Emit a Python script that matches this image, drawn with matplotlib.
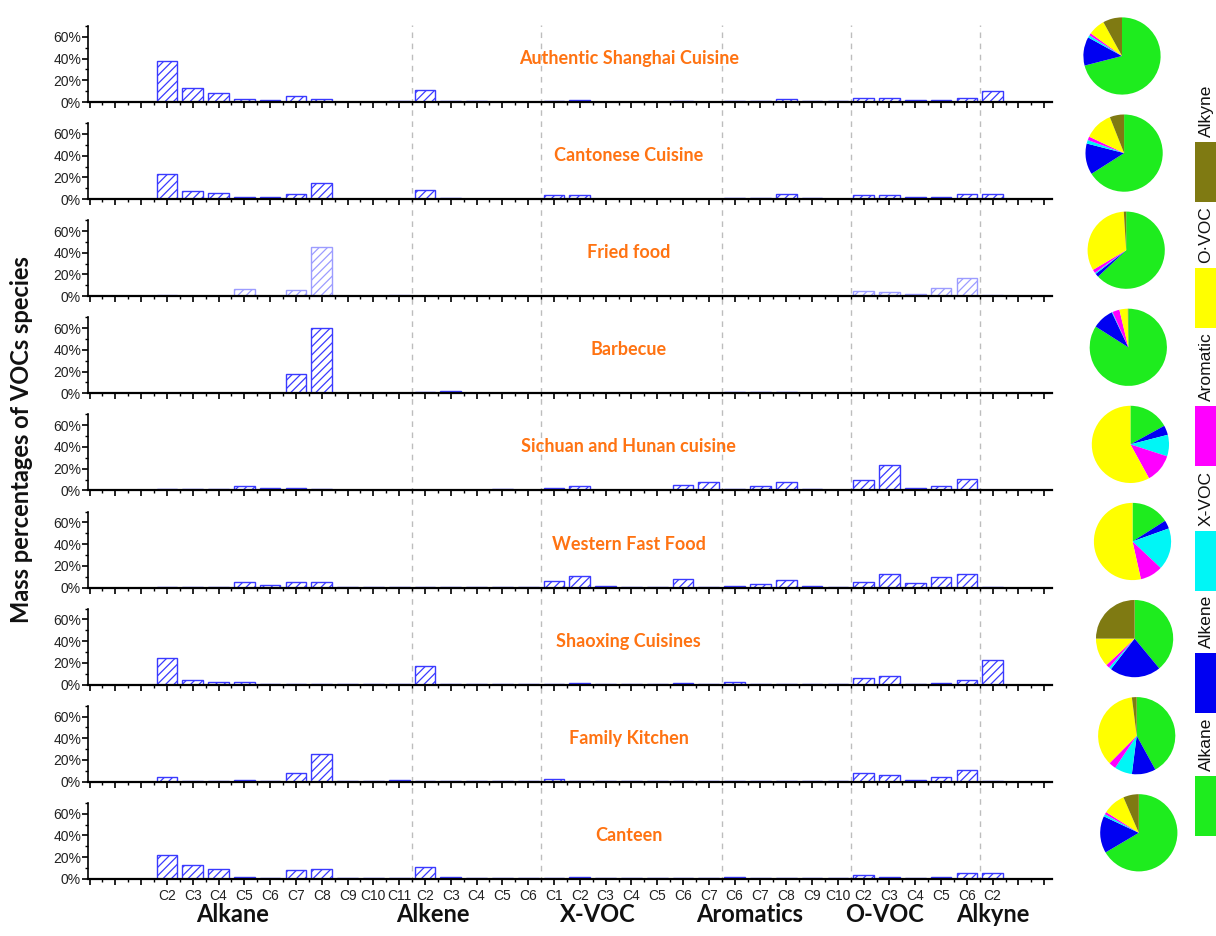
import matplotlib
matplotlib.use("Agg")
import matplotlib.pyplot as plt
from matplotlib import font_manager
from matplotlib.ticker import FixedLocator, MultipleLocator
import numpy as np

# species labels in each VOC group
alkane = ["C2", "C3", "C4", "C5", "C6", "C7", "C8", "C9", "C10", "C11"]
alkene = ["C2", "C3", "C4", "C5", "C6"]
xvoc = ["C1", "C2", "C3", "C4", "C5", "C6", "C7"]
aromatics = ["C6", "C7", "C8", "C9", "C10"]
ovoc = ["C2", "C3", "C4", "C5", "C6"]
alkyne = ["C2"]
group_names = ["Alkane", "Alkene", "X-VOC", "Aromatics", "O-VOC", "Alkyne"]
groups = [alkane, alkene, xvoc, aromatics, ovoc, alkyne]

sources = ["Authentic Shanghai Cuisine", "Cantonese Cuisine", "Fried food", "Barbecue",
           "Sichuan and Hunan cuisine", "Western Fast Food", "Shaoxing Cuisines",
           "Family Kitchen", "Canteen"]

# mass percentages (%), order = alkane | alkene | X-VOC | aromatics | O-VOC | alkyne
shanghai = [37.5, 13, 8, 2.4, 1.5, 5.5, 2.4, 0.3, 0.3, 0.5,
            11, 1, 0.5, 0.3, 0.3,
            0.5, 1.5, 0.3, 0.3, 0.3, 1, 0.3,
            1, 0.5, 2.4, 0.5, 0.5,
            3.7, 3.4, 1.5, 1.5, 3.7,
            10]
cantonese = [23, 7.3, 5.5, 1.5, 1.5, 5, 15, 0.3, 0.3, 0.5,
             8.5, 1, 0.5, 0.5, 0.3,
             3.7, 3.5, 0.5, 0.3, 0.3, 0.5, 0.3,
             1, 1, 5, 1, 0.5,
             4, 4, 1.5, 1.8, 5,
             4.5]
fried = [1.5, 0.5, 0.3, 7, 0.5, 5.5, 45, 0.3, 0.3, 0.8,
         0.5, 0.3, 0.3, 0.3, 0.3,
         0.5, 0.5, 0.3, 0.3, 0.3, 0.3, 0.3,
         0.5, 0.3, 0.5, 0.3, 0.3,
         5.2, 3.7, 2.4, 7.6, 16.8,
         1]
barbecue = [0.5, 0.5, 0.5, 0.5, 0.5, 18, 60.5, 0.3, 0.3, 0.5,
            1.5, 2, 0.5, 0.3, 0.3,
            0.3, 0.3, 0.3, 0.3, 0.3, 0.3, 0.3,
            1.5, 1.2, 1.2, 0.5, 0.3,
            0.5, 0.5, 0.5, 0.5, 0.5,
            0.3]
sichuan = [1, 1, 1, 4, 2, 2, 1, 0.3, 0.3, 0.3,
           0.5, 0.3, 0.3, 1, 0.3,
           1.8, 4.3, 0.6, 0.3, 0.3, 4.6, 7.3,
           1.2, 4.3, 7.3, 1.5, 0.3,
           9.8, 23.5, 2.1, 4.3, 10.4,
           0.3]
western = [0.3, 0.3, 0.3, 5, 2, 5, 5, 0.3, 0.3, 0.3,
           0.3, 0.3, 0.3, 0.3, 0.3,
           6, 10.4, 1.8, 0.3, 0.3, 8, 0.3,
           1.2, 3, 6.7, 1.5, 0.3,
           5.2, 12.8, 4.3, 9.8, 12.8,
           0.3]
shaoxing = [24.5, 4.6, 2.1, 2.1, 0.8, 0.8, 0.5, 0.3, 0.3, 0.3,
            16.8, 0.3, 0.8, 0.3, 0.3,
            0.5, 1.5, 0.3, 0.3, 0.3, 1.5, 0.3,
            2, 0.5, 0.5, 0.3, 0.3,
            5.8, 8.3, 0.8, 1.5, 4.6,
            23]
family = [4, 0.8, 0.8, 2, 0.5, 7.6, 25.4, 0.3, 0.5, 2,
          0.8, 0.5, 0.5, 0.5, 0.3,
          2.4, 0.5, 0.3, 0.3, 0.3, 0.5, 0.3,
          0.8, 0.5, 0.5, 0.5, 0.5,
          7.6, 6.1, 2, 4, 10.7,
          0.5]
canteen = [22.3, 12.8, 9.2, 1.5, 0.5, 8.3, 9.2, 0.5, 0.5, 0.5,
           10.7, 1.2, 0.5, 0.3, 0.3,
           0.3, 1.5, 0.3, 0.3, 0.3, 0.5, 0.3,
           1.5, 1, 1, 0.5, 0.3,
           3.4, 2.1, 0.8, 1.8, 5.2,
           5.2]
bar_values = [shanghai, cantonese, fried, barbecue, sichuan, western, shaoxing, family, canteen]

# pie shares: Alkane, Alkene, X-VOC, Aromatic, O-VOC, Alkyne
pie_labels = ["Alkane", "Alkene", "X-VOC", "Aromatic", "O\u00b7VOC", "Alkyne"]
pie_shanghai = [71, 12, 1, 1, 7, 8]
pie_cantonese = [66, 13, 1.5, 1.5, 12, 6]
pie_fried = [63, 1.5, 0.5, 1.5, 32.5, 1]
pie_barbecue = [84, 9, 0.3, 3, 3.5, 0.2]
pie_sichuan = [17, 4, 9, 12, 58, 0]
pie_western = [16, 3.5, 17.5, 9.5, 53.5, 0]
pie_shaoxing = [39, 21.5, 1, 1.5, 12, 25]
pie_family = [42, 10, 7.4, 3, 35.6, 2]
pie_canteen = [66.5, 15.5, 1, 1, 9.5, 6.5]
pie_values = [pie_shanghai, pie_cantonese, pie_fried, pie_barbecue, pie_sichuan,
              pie_western, pie_shaoxing, pie_family, pie_canteen]
pie_colors = ["#1eec1e", "#0000f2", "#00f6f6", "#ff00ff", "#ffff00", "#7f7a12"]

names = {f.name for f in font_manager.fontManager.ttflist}
narrow = "Liberation Sans Narrow" if "Liberation Sans Narrow" in names else "Liberation Sans"
label_font = "Lato" if "Lato" in names else "DejaVu Sans"

plt.rcParams["hatch.linewidth"] = 0.9
orange = "#ff7312"
bar_blue = "#3a3aff"

W, H = 1216, 936
fig = plt.figure(figsize=(W / 100, H / 100), dpi=100)

species = sum(groups, [])
x = np.arange(len(species))
bounds = np.cumsum([len(g) for g in groups])[:-1] - 0.5
xlim = (-3.06, 34.3)
ax_left, ax_right = 88, 1052
base0, pitch, ax_h = 102, 97.1, 76

# background axis for the dashed group separators
top_px, bot_px = 25, 882
bg = fig.add_axes([ax_left / W, 1 - bot_px / H, (ax_right - ax_left) / W, (bot_px - top_px) / H])
bg.set_xlim(xlim)
bg.set_ylim(0, 1)
bg.axis("off")
for b in bounds:
    bg.axvline(b, color="#bdbdbd", ls=(0, (4, 4)), lw=1)

axes = []
for k, (name, vals) in enumerate(zip(sources, bar_values)):
    base = base0 + pitch * k
    ax = fig.add_axes([ax_left / W, 1 - base / H, (ax_right - ax_left) / W, ax_h / H])
    ax.set_facecolor("none")
    ec = "#9c9cff" if name == "Fried food" else bar_blue
    ax.bar(x, vals, width=0.8, facecolor="white", edgecolor=ec, hatch="////", linewidth=1.0, zorder=2)
    ax.set_xlim(xlim)
    ax.set_ylim(0, 70)
    for s in ["top", "right"]:
        ax.spines[s].set_visible(False)
    ax.spines["bottom"].set_linewidth(1.6)
    ax.spines["left"].set_linewidth(1.2)
    ax.xaxis.set_major_locator(FixedLocator(np.arange(-3, 35)))
    ax.xaxis.set_minor_locator(FixedLocator(np.arange(-3, 35) + 0.5))
    ax.set_yticks([0, 20, 40, 60])
    ax.yaxis.set_minor_locator(MultipleLocator(10))
    ax.set_yticklabels(["0%", "20%", "40%", "60%"], fontsize=10, family=narrow, color="#222222")
    ax.tick_params(axis="x", which="major", direction="out", length=4, width=1.2)
    ax.tick_params(axis="x", which="minor", direction="out", length=2, width=1)
    ax.tick_params(axis="y", which="major", direction="out", length=4, width=1.2, pad=1)
    ax.tick_params(axis="y", which="minor", direction="out", length=2, width=1)
    ax.text(17.9, 40, name, ha="center", va="center", color=orange, fontsize=13,
            fontweight="bold", family=label_font)
    if k < len(sources) - 1:
        ax.set_xticklabels([])
    else:
        labels = ["" for _ in range(-3, 35)]
        for i, s in enumerate(species):
            labels[i + 3] = s
        ax.set_xticklabels(labels, fontsize=10, family=narrow, color="#222222")
        ax.tick_params(axis="x", which="major", pad=3)
    axes.append(ax)

# group names under the bottom panel
group_x = [2.55, 10.3, 16.7, 22.6, 27.8, 32.0]
for gx, gname in zip(group_x, group_names):
    axes[-1].text(gx, -0.47, gname, transform=axes[-1].get_xaxis_transform(), ha="center",
                  va="center", fontsize=17, fontweight="bold", family=label_font, color="#111111")

fig.text(22 / W, 1 - 440 / H, "Mass percentages of VOCs species", rotation=90, ha="center",
         va="center", fontsize=17, fontweight="bold", family=label_font, color="#111111")

# pies on the right
d = 78
for k, vals in enumerate(pie_values):
    cx = 1122 + 2.1 * k
    cy = base0 + pitch * k - 46
    pax = fig.add_axes([(cx - d / 2) / W, 1 - (cy + d / 2) / H, d / W, d / H])
    pax.pie(vals, colors=pie_colors, startangle=90, counterclock=False,
            wedgeprops=dict(linewidth=0))
    pax.set_xlim(-1.01, 1.01)
    pax.set_ylim(-1.01, 1.01)
    pax.set_aspect("equal")

# vertical legend at the right edge, stacked bottom to top between y=836 and y=85
renderer = fig.canvas.get_renderer()
box_h = 60
leg_texts = []
for lab in pie_labels:
    t = fig.text(1206 / W, 0, lab, rotation=90, ha="center", va="bottom",
                 fontsize=12.5, family=narrow, color="#111111")
    leg_texts.append(t)
heights = [t.get_window_extent(renderer).height for t in leg_texts]
y_bot, y_top, gap_in = 836, 85, 5
gap_out = (y_bot - y_top - 6 * box_h - 6 * gap_in - sum(heights)) / 5
y_cur = y_bot
for t, h, col in zip(leg_texts, heights, pie_colors):
    fig.patches.append(plt.Rectangle((1195 / W, 1 - y_cur / H), 25 / W, box_h / H,
                                     transform=fig.transFigure, facecolor=col, edgecolor="none"))
    t.set_y(1 - (y_cur - box_h - gap_in) / H)
    y_cur = y_cur - box_h - gap_in - h - gap_out

fig.savefig("out.png", dpi=100, facecolor="white")
